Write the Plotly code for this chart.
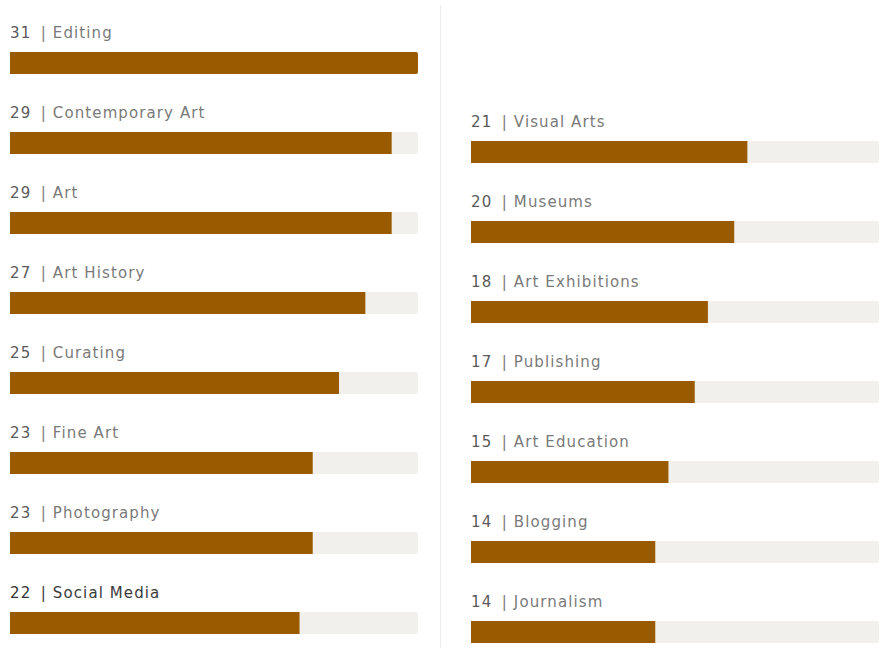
import plotly.graph_objects as go

left_labels = ["Editing", "Contemporary Art", "Art", "Art History", "Curating",
               "Fine Art", "Photography", "Social Media"]
left_values = [31, 29, 29, 27, 25, 23, 23, 22]
right_labels = ["Visual Arts", "Museums", "Art Exhibitions", "Publishing",
                "Art Education", "Blogging", "Journalism"]
right_values = [21, 20, 18, 17, 15, 14, 14]
highlight = "Social Media"

MAXV = 31
BAR = "#9a5a00"
TRACK = "#f2f0ed"
W, H = 888, 652

fig = go.Figure()

def add_column(labels, values, xa, ya):
    idx = list(range(len(labels)))
    fig.add_trace(go.Bar(x=[MAXV] * len(labels), y=idx, orientation="h",
                         marker=dict(color=TRACK, line=dict(width=0)),
                         width=0.275, xaxis=xa, yaxis=ya, hoverinfo="skip",
                         showlegend=False))
    fig.add_trace(go.Bar(x=values, y=idx, orientation="h",
                         marker=dict(color=BAR, line=dict(width=0)),
                         width=0.275, xaxis=xa, yaxis=ya,
                         text=labels, hovertemplate="%{text}: %{x}<extra></extra>",
                         textposition="none", showlegend=False))
    for i, (lab, v) in enumerate(zip(labels, values)):
        if lab == highlight:
            nc, lc = "#333333", "#3a3a3a"
        else:
            nc, lc = "#5a5a5a", "#7a7a7a"
        fig.add_annotation(
            x=0, y=i, xref=xa, yref=ya, xanchor="left", yanchor="middle",
            yshift=30, xshift=-2, showarrow=False,
            text=f"<span style='color:{nc};letter-spacing:1.1px'>{v}</span>&nbsp;&nbsp;"
                 f"<span style='color:{lc};letter-spacing:1.1px'>|&nbsp;{lab}</span>",
            font=dict(family="DejaVu Sans", size=15),
        )

add_column(left_labels, left_values, "x", "y")
add_column(right_labels, right_values, "x2", "y2")

row_px = 80.0
top0 = 63.0
r_top = -top0 / row_px
r_bot = (H - top0) / row_px
off = 89.0 / row_px

fig.update_layout(
    width=W, height=H, margin=dict(l=0, r=0, t=0, b=0),
    paper_bgcolor="white", plot_bgcolor="white",
    barmode="overlay", barcornerradius=2,
    xaxis=dict(domain=[10 / W, 418 / W], range=[0, MAXV], visible=False, fixedrange=True),
    xaxis2=dict(domain=[471 / W, 879 / W], range=[0, MAXV], visible=False, fixedrange=True),
    yaxis=dict(domain=[0, 1], range=[r_bot, r_top], visible=False, anchor="x"),
    yaxis2=dict(domain=[0, 1], range=[r_bot - off, r_top - off], visible=False, anchor="x2"),
    shapes=[dict(type="line", xref="paper", yref="paper",
                 x0=440.5 / W, x1=440.5 / W, y0=1 - 5 / H, y1=1 - 648 / H,
                 line=dict(color="#ececec", width=1))],
)

fig.write_html("out.html")
